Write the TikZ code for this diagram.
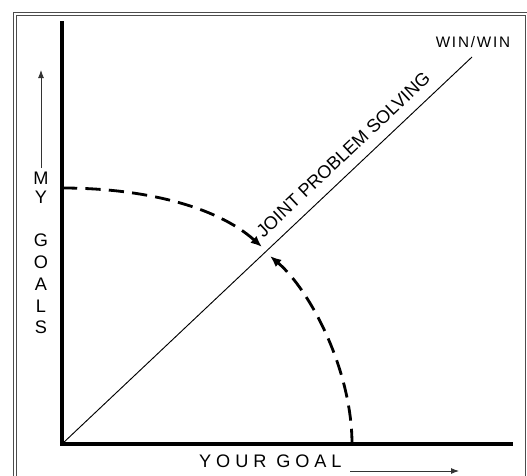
\documentclass[tikz,border=0pt]{standalone}
\usepackage{fontspec}
\setmainfont{Liberation Sans}
\usetikzlibrary{positioning, arrows.meta, calc}
\tikzset{
  axis/.style={line width=3.4pt, draw=black},
  frm/.style={line width=0.8pt, draw=black!70},
  arr/.style={-{Latex[length=2.4mm,width=1.8mm]}, line width=0.8pt, draw=black!80},
  darr/.style={-{Latex[length=3.4mm,width=2.8mm]}, line width=2.4pt, draw=black, dash pattern=on 13pt off 7pt},
  lab/.style={font=\fontsize{15.5}{17}\selectfont, inner sep=0pt}
}

\begin{document}
\begin{tikzpicture}[x=0.03cm, y=-0.03cm]
\useasboundingbox (0,0) rectangle (527,476);
% double frame
\draw[frm] (13,12) rectangle (531,482);
\draw[frm] (16,15) rectangle (525,479);
% axes
\coordinate (o) at (62,444);
\coordinate (ytop) at (62,21);
\coordinate (xend) at (513,444);
\coordinate (ww) at (472,57);
\draw[axis] (ytop) -- (o) -- (xend);
\draw[line width=0.8pt] (o) -- node[lab, sloped, above=9pt, pos=0.715] (jps) {JOINT PROBLEM SOLVING} (ww);
\node[lab, font=\fontsize{13}{15}\selectfont\addfontfeature{LetterSpace=12}] (win) at (473,42) {WIN/WIN};
% my goals
\foreach \l/\y in {M/178, Y/197, G/240, O/262, A/284, L/306, S/327}
  \node[lab] (g\l) at (41,\y) {\l};
\coordinate (ua0) at (41,168);
\coordinate (ua1) at (41,70);
\draw[arr] (ua0) -- (ua1);
% your goal
\node[lab, font=\fontsize{15.5}{17}\selectfont\addfontfeature{LetterSpace=27}, anchor=base west] (yg) at (199,467) {YOUR GOAL};
\coordinate (ra0) at (350,471);
\coordinate (ra1) at (459,471);
\draw[arr] (ra0) -- (ra1);
% dashed arcs
\coordinate (myg) at (62,188);
\coordinate (t1) at (262,247);
\coordinate (yrg) at (352,444);
\coordinate (t2) at (270,256);
\draw[darr] (myg) .. controls (140,188) and (215,205) .. (t1);
\draw[darr] (yrg) .. controls (352,370) and (310,290) .. (t2);
\end{tikzpicture}
\end{document}
